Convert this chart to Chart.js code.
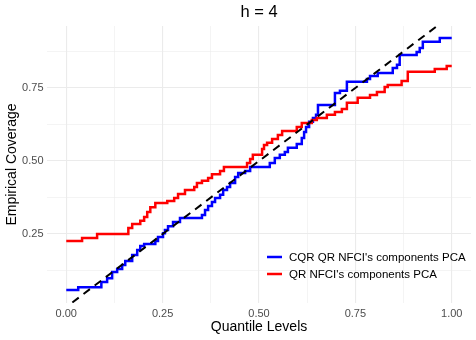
<!DOCTYPE html>
<html>
<head>
<meta charset="utf-8">
<script src="https://cdn.jsdelivr.net/npm/chart.js@4.4.0/dist/chart.umd.min.js"></script>
<style>
    html, body { margin: 0; padding: 0; background: #fff; }
</style>
</head>
<body>
<canvas id="graficoCobertura" width="476" height="340"></canvas>
<script>

const nivelesCQR = [0, 0.031, 0.091, 0.106, 0.119, 0.132, 0.145, 0.153, 0.171, 0.184, 0.192, 0.202, 0.231, 0.238, 0.251, 0.256, 0.264, 0.277, 0.295,
    0.352, 0.360, 0.368, 0.378, 0.386, 0.399, 0.407, 0.417, 0.425, 0.438, 0.446, 0.464, 0.477, 0.528, 0.541, 0.554, 0.567, 0.575, 0.598,
    0.611, 0.617, 0.622, 0.630, 0.640, 0.648, 0.653, 0.697, 0.710, 0.728, 0.780, 0.788, 0.808, 0.847, 0.858, 0.865, 0.909, 0.917, 0.925, 0.969, 1];
const coberturaCQR = [0.058, 0.068, 0.086, 0.099, 0.120, 0.130, 0.144, 0.158, 0.178, 0.195, 0.209, 0.216, 0.226, 0.240, 0.253, 0.264, 0.277, 0.291, 0.305,
    0.315, 0.332, 0.346, 0.360, 0.373, 0.384, 0.401, 0.411, 0.425, 0.445, 0.459, 0.466, 0.479, 0.493, 0.510, 0.521, 0.531, 0.545, 0.558,
    0.579, 0.599, 0.616, 0.634, 0.647, 0.658, 0.692, 0.733, 0.740, 0.771, 0.781, 0.791, 0.801, 0.818, 0.829, 0.863, 0.873, 0.887, 0.908, 0.921, 0.921];

const nivelesQR = [0, 0.041, 0.080, 0.161, 0.171, 0.192, 0.202, 0.210, 0.218, 0.231, 0.262, 0.280, 0.290, 0.308, 0.332, 0.339, 0.352, 0.368, 0.378,
    0.399, 0.409, 0.469, 0.477, 0.484, 0.508, 0.513, 0.521, 0.534, 0.549, 0.560, 0.598, 0.611, 0.637, 0.650, 0.676, 0.697, 0.715, 0.728,
    0.756, 0.788, 0.806, 0.826, 0.834, 0.870, 0.886, 0.956, 0.987, 1];
const coberturaQR = [0.226, 0.236, 0.250, 0.271, 0.284, 0.295, 0.308, 0.325, 0.342, 0.356, 0.363, 0.373, 0.387, 0.401, 0.411, 0.425, 0.432, 0.442, 0.455,
    0.466, 0.479, 0.493, 0.507, 0.521, 0.541, 0.555, 0.562, 0.575, 0.589, 0.603, 0.616, 0.630, 0.640, 0.647, 0.658, 0.668, 0.678, 0.699,
    0.716, 0.726, 0.736, 0.753, 0.760, 0.774, 0.805, 0.815, 0.825, 0.825];

// linea de referencia y = x
const diagonal = [-0.1, 1.1];

const ticksX = [0, 0.125, 0.25, 0.375, 0.5, 0.625, 0.75, 0.875, 1];
const ticksY = [0.125, 0.25, 0.375, 0.5, 0.625, 0.75, 0.875];
const ticksPrincipales = [0, 0.25, 0.5, 0.75, 1];

const series = [
    { nombre: "CQR QR NFCI's components PCA", color: "#0000FF" },
    { nombre: "QR NFCI's components PCA", color: "#FF0000" }
];

const fuente = "'Liberation Sans', Arial, sans-serif";

function aPuntos(xs, ys) {
    return xs.map((x, i) => ({ x: x, y: ys[i] }));
}

function esPrincipal(v) {
    return ticksPrincipales.some(t => Math.abs(t - v) < 1e-9);
}

// titulo y leyenda dibujados dentro del panel (estilo ggplot)
const pluginExtras = {
    id: 'extras',
    afterDraw(chart) {
        const ctx = chart.ctx;
        const area = chart.chartArea;
        ctx.save();
        ctx.fillStyle = '#000';
        ctx.textAlign = 'center';
        ctx.textBaseline = 'middle';
        ctx.font = "16.5px " + fuente;
        ctx.fillText('h = 4', (area.left + area.right) / 2, 12);

        ctx.textAlign = 'left';
        ctx.font = "11.5px " + fuente;
        series.forEach((s, i) => {
            const y = 257 + i * 17;
            ctx.strokeStyle = s.color;
            ctx.lineWidth = 2.5;
            ctx.beginPath();
            ctx.moveTo(267, y);
            ctx.lineTo(282, y);
            ctx.stroke();
            ctx.fillStyle = '#000';
            ctx.fillText(s.nombre, 289, y + 0.5);
        });
        ctx.restore();
    }
};

const ctx = document.getElementById('graficoCobertura').getContext('2d');

new Chart(ctx, {
    type: 'line',
    plugins: [pluginExtras],
    data: {
        datasets: [
            {
                label: 'y = x',
                data: aPuntos(diagonal, diagonal),
                borderColor: '#000',
                borderWidth: 2,
                borderDash: [8, 6],
                pointRadius: 0,
                fill: false
            },
            {
                label: series[1].nombre,
                data: aPuntos(nivelesQR, coberturaQR),
                borderColor: series[1].color,
                borderWidth: 2.5,
                stepped: true,
                pointRadius: 0,
                fill: false
            },
            {
                label: series[0].nombre,
                data: aPuntos(nivelesCQR, coberturaCQR),
                borderColor: series[0].color,
                borderWidth: 2.5,
                stepped: true,
                pointRadius: 0,
                fill: false
            }
        ]
    },
    options: {
        responsive: false,
        animation: false,
        devicePixelRatio: 1,
        layout: { padding: { top: 26, right: 5, left: 0, bottom: 0 } },
        plugins: {
            legend: { display: false },
            tooltip: { enabled: false },
            title: { display: false }
        },
        scales: {
            x: {
                type: 'linear',
                min: -0.05,
                max: 1.05,
                afterBuildTicks: s => { s.ticks = ticksX.map(v => ({ value: v })); },
                afterFit: s => { s.height = 37; },
                border: { display: false },
                grid: {
                    drawTicks: false,
                    color: '#EBEBEB',
                    lineWidth: c => esPrincipal(c.tick.value) ? 1.1 : 0.55
                },
                ticks: {
                    padding: 4,
                    autoSkip: false,
                    maxRotation: 0,
                    color: '#4D4D4D',
                    font: { family: fuente, size: 11 },
                    callback: v => esPrincipal(v) ? v.toFixed(2) : ''
                },
                title: {
                    display: true,
                    text: 'Quantile Levels',
                    color: '#000',
                    font: { family: fuente, size: 14 },
                    padding: { top: 0, bottom: 4 }
                }
            },
            y: {
                type: 'linear',
                min: 0.0139,
                max: 0.962,
                afterBuildTicks: s => { s.ticks = ticksY.map(v => ({ value: v })); },
                afterFit: s => { s.width = 47; },
                border: { display: false },
                grid: {
                    drawTicks: false,
                    color: '#EBEBEB',
                    lineWidth: c => esPrincipal(c.tick.value) ? 1.1 : 0.55
                },
                ticks: {
                    padding: 3.5,
                    autoSkip: false,
                    color: '#4D4D4D',
                    font: { family: fuente, size: 11 },
                    callback: v => esPrincipal(v) ? v.toFixed(2) : ''
                },
                title: {
                    display: true,
                    text: 'Empirical Coverage',
                    color: '#000',
                    font: { family: fuente, size: 14 },
                    padding: { top: 3.5, bottom: 0 }
                }
            }
        }
    }
});

</script>
</body>
</html>
